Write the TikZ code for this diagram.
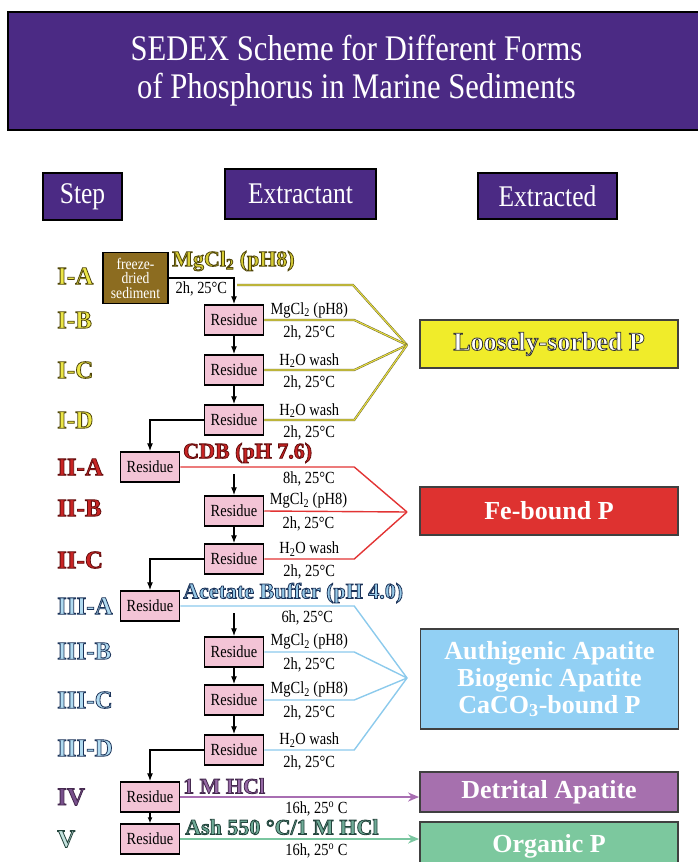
\documentclass[tikz,border=0pt]{standalone}
\usepackage{fontspec}
\setmainfont{Liberation Serif}
\newfontfamily\nrw[FakeStretch=0.85]{Liberation Serif}
\usetikzlibrary{arrows.meta}
\newcommand\olt[2]{\special{pdf:literal direct 2 Tr #1 RG 0.8 w}#2}

\definecolor{hdr}{RGB}{75,42,132}
\definecolor{rpink}{RGB}{243,196,214}
\definecolor{fzb}{RGB}{140,108,32}
\definecolor{ylw}{RGB}{232,224,64}
\definecolor{ylwd}{RGB}{80,70,10}
\definecolor{redl}{RGB}{226,52,52}
\definecolor{blul}{RGB}{140,202,236}
\definecolor{purl}{RGB}{168,110,178}
\definecolor{grnl}{RGB}{122,198,160}
\definecolor{bxy}{RGB}{240,236,42}
\definecolor{bxr}{RGB}{222,50,48}
\definecolor{bxb}{RGB}{146,208,244}
\definecolor{bxp}{RGB}{166,112,174}
\definecolor{bxg}{RGB}{124,200,158}
\definecolor{ti}{RGB}{236,230,70}
\definecolor{tii}{RGB}{200,36,36}
\definecolor{tiii}{RGB}{176,218,240}
\definecolor{tiv}{RGB}{120,80,140}
\definecolor{tv}{RGB}{196,226,222}
\definecolor{ei}{RGB}{214,204,52}
\definecolor{eiii}{RGB}{150,200,230}
\definecolor{eiv}{RGB}{150,105,165}
\definecolor{ev}{RGB}{110,170,150}

\begin{document}
\begin{tikzpicture}[
x=1pt, y=-1pt,
ar/.style={-{Latex[length=8pt,width=6pt]}, line width=1.3pt},
yl/.style={draw=ylwd!85, double=ylw, line width=0.5pt, double distance=1.1pt},
rl/.style={draw=redl, line width=1.4pt},
bl/.style={draw=blul, line width=1.4pt},
pl/.style={draw=purl, line width=2pt, -{Stealth[length=11pt,width=9pt]}},
gl/.style={draw=grnl, line width=2pt, -{Stealth[length=11pt,width=9pt]}}
]

\tikzstyle{ttl} = [draw, line width=2.5pt, fill=hdr, text=white, align=center, minimum width=697pt, minimum height=118pt, font=\nrw\fontsize{36}{38}\selectfont]
\tikzstyle{hd} = [draw, line width=2pt, fill=hdr, text=white, font=\nrw\fontsize{30}{30}\selectfont]
\tikzstyle{res} = [draw, line width=1.5pt, fill=rpink, minimum width=59pt, minimum height=30pt, inner sep=0pt, font=\nrw\fontsize{17}{17}\selectfont]
\tikzstyle{fz} = [draw, line width=1.5pt, fill=fzb, text=white, align=center, minimum width=65pt, minimum height=51pt, inner sep=0pt, font=\nrw\fontsize{16}{14.5}\selectfont]
\tikzstyle{st} = [anchor=west, inner sep=0pt, font=\bfseries\fontsize{25}{25}\selectfont]
\tikzstyle{ex} = [anchor=west, inner sep=0pt, font=\bfseries\fontsize{22}{22}\selectfont]
\tikzstyle{sm} = [inner sep=0pt, font=\nrw\fontsize{17}{17}\selectfont]
\tikzstyle{outb} = [draw=black!75, line width=1.8pt, text=white, align=center, minimum width=258pt, font=\bfseries\fontsize{26}{27}\selectfont]

\useasboundingbox (0,0) rectangle (698,862);

\node[ttl] (title) at (356.5,71) {SEDEX Scheme for Different Forms\\of Phosphorus in Marine Sediments};
\node[hd, minimum width=79pt, minimum height=47pt] (hstep) at (82.5,196.5) {Step};
\node[hd, minimum width=151pt, minimum height=50pt] (hext) at (300.5,194) {Extractant};
\node[hd, minimum width=139pt, minimum height=46pt] (hout) at (547.5,196) {Extracted};

\node[st, text=ti] (l1a) at (57,276) {\olt{0.31 0.27 0.04}{I-A}};
\node[st, text=ti] (l1b) at (57,320) {\olt{0.31 0.27 0.04}{I-B}};
\node[st, text=ti] (l1c) at (57,370) {\olt{0.31 0.27 0.04}{I-C}};
\node[st, text=ti] (l1d) at (57,420) {\olt{0.31 0.27 0.04}{I-D}};
\node[st, text=tii] (l2a) at (57,467) {\olt{0.39 0.05 0.05}{II-A}};
\node[st, text=tii] (l2b) at (57,508) {\olt{0.39 0.05 0.05}{II-B}};
\node[st, text=tii] (l2c) at (57,560) {\olt{0.39 0.05 0.05}{II-C}};
\node[st, text=tiii] (l3a) at (57,606) {\olt{0.11 0.2 0.35}{III-A}};
\node[st, text=tiii] (l3b) at (57,651) {\olt{0.11 0.2 0.35}{III-B}};
\node[st, text=tiii] (l3c) at (57,700) {\olt{0.11 0.2 0.35}{III-C}};
\node[st, text=tiii] (l3d) at (57,748) {\olt{0.11 0.2 0.35}{III-D}};
\node[st, text=tiv] (l4) at (57,797) {\olt{0.27 0.16 0.31}{IV}};
\node[st, text=tv] (l5) at (57,839) {\olt{0.14 0.27 0.24}{V}};

\node[fz] (fz) at (135.5,278) {freeze-\\dried\\sediment};
\node[res] (r1b) at (234,320) {Residue};
\node[res] (r1c) at (234,370) {Residue};
\node[res] (r1d) at (234,420) {Residue};
\node[res] (r2a) at (150,467) {Residue};
\node[res] (r2b) at (234,511) {Residue};
\node[res] (r2c) at (234,559) {Residue};
\node[res] (r3a) at (150,606) {Residue};
\node[res] (r3b) at (234,652) {Residue};
\node[res] (r3c) at (234,700) {Residue};
\node[res] (r3d) at (234,750) {Residue};
\node[res] (r4) at (150,797) {Residue};
\node[res] (r5) at (150,839) {Residue};

\node[ex, text=ei] (e1) at (172,261) {\olt{0.31 0.27 0.04}{MgCl\textsubscript{2} (pH8)}};
\node[ex, text=tii] (e2) at (183,453) {\olt{0.39 0.05 0.05}{CDB (pH 7.6)}};
\node[ex, text=eiii] (e3) at (183,593) {\olt{0.11 0.2 0.35}{Acetate Buffer (pH 4.0)}};
\node[ex, text=eiv] (e4) at (183,786) {\olt{0.27 0.16 0.31}{1 M HCl}};
\node[ex, text=ev] (e5) at (185,827) {\olt{0.14 0.27 0.24}{Ash 550 °C/1 M HCl}};

\node[outb, fill=bxy, minimum height=48pt] (o1) at (549,344) {\olt{0.2 0.2 0.2}{Loosely-sorbed P}};
\node[outb, fill=bxr, minimum height=48pt] (o2) at (549,511) {Fe-bound P};
\node[outb, fill=bxb, minimum height=100pt] (o3) at (549.5,679) {Authigenic Apatite\\Biogenic Apatite\\CaCO\textsubscript{3}-bound P};
\node[outb, fill=bxp, minimum height=40pt] (o4) at (549,792) {Detrital Apatite};
\node[outb, fill=bxg, minimum height=48pt] (o5) at (549,846) {Organic P};

\coordinate (p1) at (407,345);
\coordinate (p2) at (407,512);
\coordinate (p3) at (407,678);
\coordinate (y0) at (237,285);
\coordinate (s2) at (234,474);
\coordinate (s3) at (234,613);

\draw[ar] (fz.east) -| node[sm, pos=0.25, below=3pt] {2h, 25°C} (r1b);
\draw[ar] (r1b) -- (r1c);
\draw[ar] (r1c) -- (r1d);
\draw[ar] (r1d.west) -| (r2a);
\draw[ar] (s2) -- (r2b);
\draw[ar] (r2b) -- (r2c);
\draw[ar] (r2c.west) -| (r3a);
\draw[ar] (s3) -- (r3b);
\draw[ar] (r3b) -- (r3c);
\draw[ar] (r3c) -- (r3d);
\draw[ar] (r3d.west) -| (r4);
\draw[-{Latex[length=6pt,width=5pt]}, line width=1.3pt] (r4) -- (r5);

\draw[yl] (y0) -- ++(116,0) -- (p1);
\draw[yl] (r1b.east) -- node[sm, above=2pt] {MgCl\textsubscript{2} (pH8)} node[sm, below=5pt] {2h, 25°C} ++(90,0) -- (p1);
\draw[yl] (r1c.east) -- node[sm, above=2pt] {H\textsubscript{2}O wash} node[sm, below=5pt] {2h, 25°C} ++(90,0) -- (p1);
\draw[yl] (r1d.east) -- node[sm, above=2pt] {H\textsubscript{2}O wash} node[sm, below=5pt] {2h, 25°C} ++(90,0) -- (p1);

\draw[rl] (r2a.east) -- node[sm, pos=0.74, below=4pt] {8h, 25°C} ++(174,0) -- (p2);
\draw[rl] (r2b.east) -- node[sm, pos=0.31, above=2pt] {MgCl\textsubscript{2} (pH8)} node[sm, pos=0.31, below=5pt] {2h, 25°C} (p2);
\draw[rl] (r2c.east) -- node[sm, above=2pt] {H\textsubscript{2}O wash} node[sm, below=5pt] {2h, 25°C} ++(90,0) -- (p2);

\draw[bl] (r3a.east) -- node[sm, pos=0.73, below=4pt] {6h, 25°C} ++(174,0) -- (p3);
\draw[bl] (r3b.east) -- node[sm, above=2pt] {MgCl\textsubscript{2} (pH8)} node[sm, below=5pt] {2h, 25°C} ++(90,0) -- (p3);
\draw[bl] (r3c.east) -- node[sm, above=2pt] {MgCl\textsubscript{2} (pH8)} node[sm, below=5pt] {2h, 25°C} ++(90,0) -- (p3);
\draw[bl] (r3d.east) -- node[sm, above=2pt] {H\textsubscript{2}O wash} node[sm, below=5pt] {2h, 25°C} ++(90,0) -- (p3);

\draw[pl] (r4.east) -- node[sm, pos=0.57, below=4pt] {16h, 25\textsuperscript{o} C} (o4.west |- r4.east);
\draw[gl] (r5.east) -- node[sm, pos=0.57, below=4pt] {16h, 25\textsuperscript{o} C} (o5.west |- r5.east);
\end{tikzpicture}
\end{document}
